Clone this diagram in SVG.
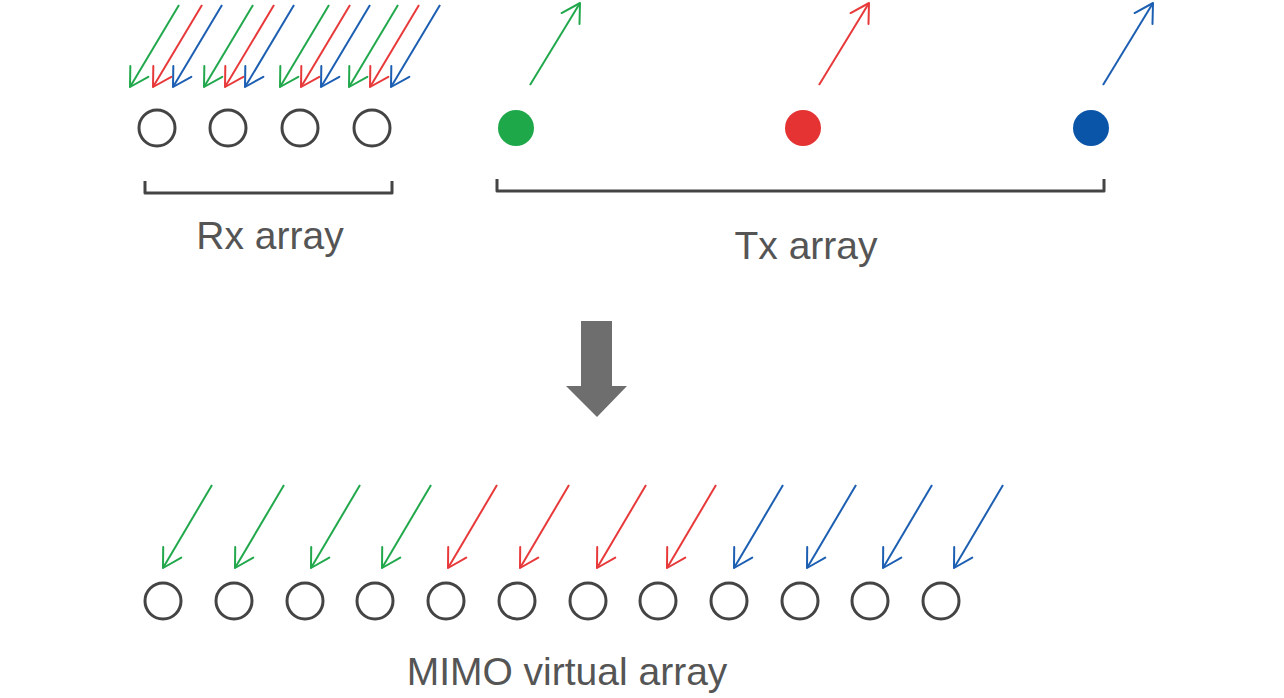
<svg xmlns="http://www.w3.org/2000/svg" width="1284" height="698" viewBox="0 0 1284 698">
<style>
.lbl{font-family:"Liberation Sans",Arial,sans-serif;font-size:39px;fill:#555555;text-anchor:middle}
.ring{fill:none;stroke:#444444;stroke-width:3}
.brk{fill:none;stroke:#444444;stroke-width:3;stroke-linejoin:round}
.g{stroke:#22a84c;stroke-width:2;fill:none;marker-end:url(#mg)}
.r{stroke:#e8393a;stroke-width:2;fill:none;marker-end:url(#mr)}
.b{stroke:#1c5fb2;stroke-width:2;fill:none;marker-end:url(#mb)}
</style>
<defs>
<marker id="mg" markerUnits="userSpaceOnUse" markerWidth="26" markerHeight="26" viewBox="-22 -13 26 26" refX="0" refY="0" orient="auto"><path d="M-18.2,-10.5 L0,0 L-18.2,10.5" fill="none" stroke="#22a84c" stroke-width="2" stroke-linejoin="round" stroke-linecap="round"/></marker>
<marker id="mr" markerUnits="userSpaceOnUse" markerWidth="26" markerHeight="26" viewBox="-22 -13 26 26" refX="0" refY="0" orient="auto"><path d="M-18.2,-10.5 L0,0 L-18.2,10.5" fill="none" stroke="#e8393a" stroke-width="2" stroke-linejoin="round" stroke-linecap="round"/></marker>
<marker id="mb" markerUnits="userSpaceOnUse" markerWidth="26" markerHeight="26" viewBox="-22 -13 26 26" refX="0" refY="0" orient="auto"><path d="M-18.2,-10.5 L0,0 L-18.2,10.5" fill="none" stroke="#1c5fb2" stroke-width="2" stroke-linejoin="round" stroke-linecap="round"/></marker>
</defs>
<rect width="1284" height="698" fill="#ffffff"/>

<g id="rx-array">
<circle class="ring" cx="157" cy="128" r="18"/>
<circle class="ring" cx="228" cy="128" r="18"/>
<circle class="ring" cx="300" cy="128" r="18"/>
<circle class="ring" cx="372" cy="128" r="18"/>
<path class="brk" d="M145,181 V193 H392 V181"/>
<text class="lbl" x="270" y="249">Rx array</text>
</g>

<g id="tx-array">
<circle cx="516" cy="128" r="18" fill="#1ea84a"/>
<circle cx="803" cy="128" r="18" fill="#e53232"/>
<circle cx="1091" cy="128" r="18" fill="#0b55a8"/>
<path class="brk" d="M497,179 V191 H1104 V179"/>
<text class="lbl" x="806" y="259">Tx array</text>
</g>

<g id="down-arrow">
<path d="M581,321 H612 V386 H627 L597,417 L566,386 H581 Z" fill="#6e6e6e"/>
</g>

<g id="mimo-array">
<circle class="ring" cx="163" cy="601" r="18"/>
<circle class="ring" cx="234" cy="601" r="18"/>
<circle class="ring" cx="305" cy="601" r="18"/>
<circle class="ring" cx="375" cy="601" r="18"/>
<circle class="ring" cx="446" cy="601" r="18"/>
<circle class="ring" cx="517" cy="601" r="18"/>
<circle class="ring" cx="588" cy="601" r="18"/>
<circle class="ring" cx="658" cy="601" r="18"/>
<circle class="ring" cx="729" cy="601" r="18"/>
<circle class="ring" cx="800" cy="601" r="18"/>
<circle class="ring" cx="870" cy="601" r="18"/>
<circle class="ring" cx="941" cy="601" r="18"/>
<text class="lbl" x="567" y="685">MIMO virtual array</text>
</g>

<g id="connectors">
<line class="g" x1="179" y1="5" x2="130" y2="87"/>
<line class="r" x1="202" y1="5" x2="153" y2="87"/>
<line class="b" x1="222" y1="5" x2="173" y2="87"/>
<line class="g" x1="253" y1="5" x2="204" y2="87"/>
<line class="r" x1="274" y1="5" x2="225" y2="87"/>
<line class="b" x1="294" y1="5" x2="245" y2="87"/>
<line class="g" x1="329" y1="5" x2="280" y2="87"/>
<line class="r" x1="350" y1="5" x2="301" y2="87"/>
<line class="b" x1="370" y1="5" x2="321" y2="87"/>
<line class="g" x1="398" y1="5" x2="349" y2="87"/>
<line class="r" x1="419" y1="5" x2="370" y2="87"/>
<line class="b" x1="440" y1="5" x2="391" y2="87"/>

<line class="g" x1="530" y1="85" x2="580" y2="3"/>
<line class="r" x1="819" y1="85" x2="869" y2="3"/>
<line class="b" x1="1103" y1="85" x2="1153" y2="3"/>

<line class="g" x1="212" y1="485" x2="163" y2="568"/>
<line class="g" x1="284" y1="485" x2="235" y2="568"/>
<line class="g" x1="360" y1="485" x2="311" y2="568"/>
<line class="g" x1="431" y1="485" x2="382" y2="568"/>
<line class="r" x1="497" y1="485" x2="448" y2="568"/>
<line class="r" x1="569" y1="485" x2="520" y2="568"/>
<line class="r" x1="646" y1="485" x2="597" y2="568"/>
<line class="r" x1="716" y1="485" x2="667" y2="568"/>
<line class="b" x1="783" y1="485" x2="734" y2="568"/>
<line class="b" x1="856" y1="485" x2="807" y2="568"/>
<line class="b" x1="932" y1="485" x2="883" y2="568"/>
<line class="b" x1="1003" y1="485" x2="954" y2="568"/>
</g>
</svg>
